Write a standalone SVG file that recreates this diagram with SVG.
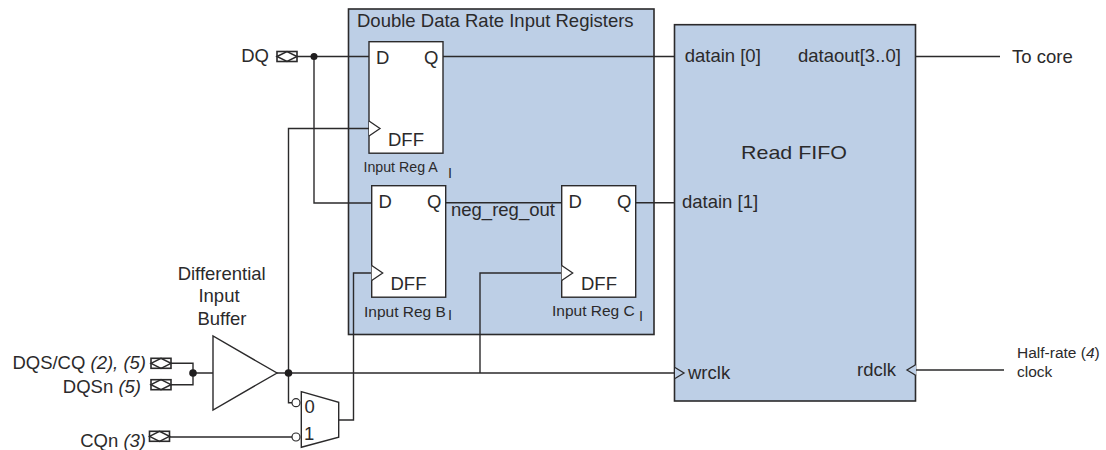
<svg xmlns="http://www.w3.org/2000/svg" width="1106" height="450" viewBox="0 0 1106 450">
<style>
text{font-family:"Liberation Sans",Arial,sans-serif;font-size:18.500px;fill:#2b2a2b}
.s{font-size:15.500px}
.sub{font-size:14.500px}
.i{font-style:italic}
.m{text-anchor:middle}
.e{text-anchor:end}
.blue{fill:#bdcfe6;stroke:#2b2a2b;stroke-width:1.6}
.ff{fill:#fff;stroke:#2b2a2b;stroke-width:1.4}
.w{fill:none;stroke:#2b2a2b;stroke-width:1.4}
.d{fill:#1f1d1e;stroke:none}
</style>
<defs>
<g id="pad"><rect x="0" y="-5" width="20" height="10" fill="#fff" stroke="#2b2a2b" stroke-width="1.600"/><path d="M0 0L10-5L20 0L10 5Z" fill="none" stroke="#2b2a2b" stroke-width="1.500"/></g>
<path id="clk" d="M0-7.500L11 0L0 7.500" fill="#fff" stroke="#2b2a2b" stroke-width="1.3"/>
</defs>
<g id="reg-group"><rect class="blue" x="348.500" y="9" width="305.500" height="325.500"/><text x="357" y="27">Double Data Rate Input Registers</text></g>
<g id="read-fifo"><rect class="blue" x="674.500" y="24.700" width="241" height="376.300"/><text x="741" y="159" textLength="106" lengthAdjust="spacingAndGlyphs">Read FIFO</text><text x="684.700" y="62">datain [0]</text><text x="682" y="208">datain [1]</text><text x="798" y="62">dataout[3..0]</text><text x="688" y="379">wrclk</text><text x="857" y="376">rdclk</text></g>
<g id="connectors">
<path class="w" d="M297 56.500H369M443 56.500H675M916 56.500H1000M314 56.500V203H372M288.500 373V128.500H369M446 202.700H562M636 202.700H675M171 363.300H193V384.700H171M193 373H213M277 373H675M480 373V273H562M288.500 373V402.700H292M169 437H292M339 420H353.500V273H372M916 370H1004"/>
<circle class="d" cx="314" cy="56.500" r="3.500"/><circle class="d" cx="193" cy="373" r="3.800"/><circle class="d" cx="288.500" cy="373" r="3.800"/>
<path d="M675 367.500L684 373L675 378.500" fill="#bdcfe6" stroke="#2b2a2b" stroke-width="1.3"/>
<path d="M916 364.500L907 370L916 375.500" fill="#bdcfe6" stroke="#2b2a2b" stroke-width="1.3"/>
</g>
<g id="dff-a"><rect class="ff" x="369" y="41.700" width="74" height="111.500"/><use href="#clk" x="369" y="128.500"/><text x="376" y="64">D</text><text x="424" y="64">Q</text><text x="388" y="145.500">DFF</text><text class="s" style="font-size:14.200px" x="363.500" y="172">Input Reg A</text><text class="sub" x="448" y="178">I</text></g>
<g id="dff-b"><rect class="ff" x="371.700" y="185.700" width="74" height="111.500"/><use href="#clk" x="371.700" y="273"/><text x="378.500" y="208">D</text><text x="427" y="208">Q</text><text x="390.500" y="290">DFF</text><text class="s" x="364" y="317">Input Reg B</text><text class="sub" x="448" y="320">I</text></g>
<g id="dff-c"><rect class="ff" x="561.700" y="185.700" width="74" height="111.500"/><use href="#clk" x="561.700" y="273"/><text x="568.500" y="207.500">D</text><text x="617" y="207.500">Q</text><text x="581" y="290">DFF</text><text class="s" x="552" y="316">Input Reg C</text><text class="sub" x="639" y="321">I</text></g>
<g id="neg-label"><text x="451" y="216">neg_reg_out</text></g>
<g id="dq"><text class="e" x="269" y="62">DQ</text><use href="#pad" x="277" y="56.500"/></g>
<g id="dqs"><text class="e" x="146" y="369">DQS/CQ <tspan class="i">(2), (5)</tspan></text><use href="#pad" x="151" y="363.300"/></g>
<g id="dqsn"><text class="e" x="141" y="393">DQSn <tspan class="i">(5)</tspan></text><use href="#pad" x="151" y="384.700"/></g>
<g id="cqn"><text class="e" x="146" y="446.500">CQn <tspan class="i">(3)</tspan></text><use href="#pad" x="149.500" y="436.300"/></g>
<g id="buffer"><path d="M213 336V410L277 373Z" fill="#fff" stroke="#2b2a2b" stroke-width="1.4"/><text class="m" x="221.700" y="280">Differential</text><text class="m" x="219" y="302">Input</text><text class="m" x="222" y="325">Buffer</text></g>
<g id="mux"><path d="M301.300 391.700L338.700 402.300V437.300L301.300 447.300Z" fill="#fff" stroke="#2b2a2b" stroke-width="1.4"/><circle cx="296" cy="402.700" r="4" fill="#fff" stroke="#2b2a2b" stroke-width="1.2"/><circle cx="296" cy="437" r="4" fill="#fff" stroke="#2b2a2b" stroke-width="1.2"/><text x="304.500" y="413">0</text><text x="304" y="440">1</text></g>
<g id="to-core"><text x="1012" y="63">To core</text></g>
<g id="half-rate"><text class="s" x="1017" y="358">Half-rate (<tspan class="i">4</tspan>)</text><text class="s" x="1017" y="377">clock</text></g>
</svg>
